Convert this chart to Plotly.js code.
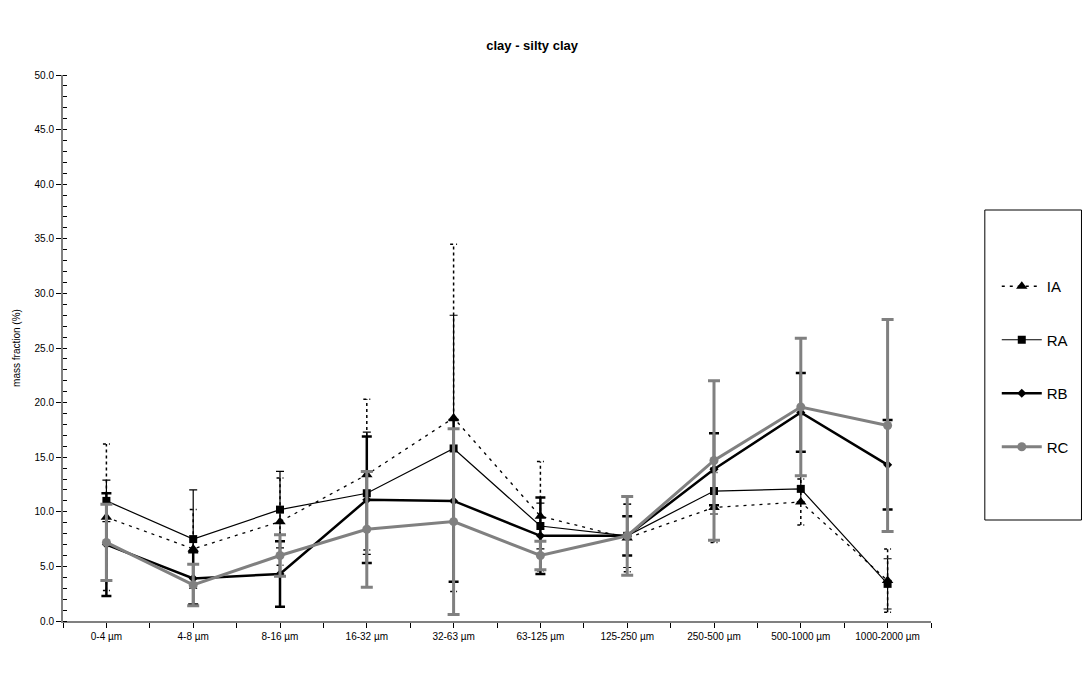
<!DOCTYPE html>
<html>
<head>
<meta charset="utf-8">
<script src="https://cdn.plot.ly/plotly-3.0.1.min.js"></script>
<style>html,body{margin:0;padding:0;background:#fff;}#chart{width:1086px;height:674px;}</style>
</head>
<body>
<div id="chart"></div>
<script>
const categories = ['0-4 µm','4-8 µm','8-16 µm','16-32 µm','32-63 µm','63-125 µm','125-250 µm','250-500 µm','500-1000 µm','1000-2000 µm'];
const IA    = [9.5, 6.6, 9.1, 13.4, 18.6, 9.6, 7.6, 10.4, 10.9, 3.7];
const IAerr = [6.7, 3.6, 4.0, 6.9, 15.9, 5.0, 3.1, 3.2, 2.1, 2.9];
const RA    = [11.0, 7.5, 10.2, 11.7, 15.8, 8.7, 7.8, 11.9, 12.1, 3.4];
const RAerr = [1.9, 4.5, 3.5, 5.6, 12.2, 2.1, 2.9, 2.1, 1.2, 2.3];
const RB    = [7.0, 3.9, 4.3, 11.1, 11.0, 7.8, 7.8, 13.9, 19.1, 14.3];
const RBerr = [4.7, 2.4, 3.0, 5.8, 7.4, 3.5, 1.8, 3.3, 3.6, 4.1];
const RC    = [7.2, 3.3, 6.0, 8.4, 9.1, 6.0, 7.8, 14.7, 19.6, 17.9];
const RCerr = [3.5, 1.9, 1.9, 5.3, 8.5, 1.3, 3.6, 7.3, 6.3, 9.7];
const yTitle = 'mass fraction (%)';
const chartTitle = 'clay - silty clay';

const xs = categories.map((c, i) => i);

// dashed error bars for IA (built from values)
const iaEx = [], iaEy = [];
const capW = 0.04;
IA.forEach((v, i) => {
  iaEx.push(i, i, null);
  iaEy.push(v - IAerr[i], v + IAerr[i], null);
  iaEx.push(i - capW, i + capW, null);
  iaEy.push(v + IAerr[i], v + IAerr[i], null);
  iaEx.push(i - capW, i + capW, null);
  iaEy.push(v - IAerr[i], v - IAerr[i], null);
});

const traces = [
  {x: iaEx, y: iaEy, mode: 'lines', line: {color: '#000', width: 1.5, dash: '3px,3px'}, showlegend: false, hoverinfo: 'skip', legendgroup: 'IAe'},
  {x: xs, y: IA, name: 'IA', legendgroup: 'IA', mode: 'lines+markers',
   line: {color: '#000', width: 1.3, dash: '3px,5px'},
   marker: {symbol: 'triangle-up', size: 10, color: '#000'}},
  {x: xs, y: RA, name: 'RA', legendgroup: 'RA', mode: 'lines+markers',
   line: {color: '#000', width: 1.2},
   marker: {symbol: 'square', size: 8, color: '#000'},
   error_y: {type: 'data', array: RAerr, visible: true, color: '#000', thickness: 1.2, width: 4}},
  {x: xs, y: RB, name: 'RB', legendgroup: 'RB', mode: 'lines+markers',
   line: {color: '#000', width: 2.5},
   marker: {symbol: 'diamond', size: 7, color: '#000'},
   error_y: {type: 'data', array: RBerr, visible: true, color: '#000', thickness: 2.5, width: 5}},
  {x: xs, y: RC, name: 'RC', legendgroup: 'RC', mode: 'lines+markers',
   line: {color: '#808080', width: 3},
   marker: {symbol: 'circle', size: 9, color: '#808080'},
   error_y: {type: 'data', array: RCerr, visible: true, color: '#808080', thickness: 3, width: 6}}
];

const pxX = px => (px - 63) / 871;
const pxY = py => (621 - py) / 546;

const layout = {
  width: 1086, height: 674,
  paper_bgcolor: '#fff', plot_bgcolor: '#fff',
  font: {family: 'Liberation Sans, Arial, sans-serif', color: '#000', size: 10},
  margin: {l: 63, r: 152, t: 75, b: 53},
  title: {text: '<b>' + chartTitle + '</b>', font: {size: 13, family: 'Liberation Sans, Arial, sans-serif'},
          xref: 'container', yref: 'container', x: 0.49, y: 1 - 45/674, xanchor: 'center', yanchor: 'middle'},
  xaxis: {
    range: [-0.5, 9.5], tickmode: 'array', tickvals: xs, ticktext: categories,
    showgrid: false, zeroline: false, showline: true, linecolor: '#808080', linewidth: 2,
    ticks: 'outside', ticklen: 5, tickcolor: '#000', tickwidth: 1,
    minor: {tickmode: 'linear', tick0: -0.5, dtick: 1, ticks: 'outside', ticklen: 5, tickcolor: '#000', tickwidth: 1, showgrid: false},
    tickfont: {size: 10}, fixedrange: true
  },
  yaxis: {
    range: [0, 50], dtick: 5, tickformat: '.1f',
    showgrid: false, zeroline: false, showline: true, linecolor: '#808080', linewidth: 2,
    ticks: 'outside', ticklen: 5, tickcolor: '#000', tickwidth: 1,
    minor: {dtick: 1, ticks: 'inside', ticklen: 4, tickcolor: '#000', tickwidth: 1, showgrid: false},
    tickfont: {size: 10},
    title: {text: yTitle, font: {size: 10}, standoff: 12}
  },
  legend: {
    x: pxX(1000), y: pxY(270), xanchor: 'left', yanchor: 'top',
    borderwidth: 0, bgcolor: 'rgba(0,0,0,0)',
    font: {size: 15}, tracegroupgap: 31, itemwidth: 40, traceorder: 'grouped'
  },
  shapes: [
    {type: 'rect', xref: 'paper', yref: 'paper', x0: pxX(988), x1: pxX(1085), y0: pxY(210), y1: pxY(520),
     line: {color: '#000', width: 1}, fillcolor: 'rgba(0,0,0,0)', layer: 'below'}
  ],
  showlegend: true
};

Plotly.newPlot('chart', traces, layout, {displayModeBar: false, staticPlot: true});
</script>
</body>
</html>
